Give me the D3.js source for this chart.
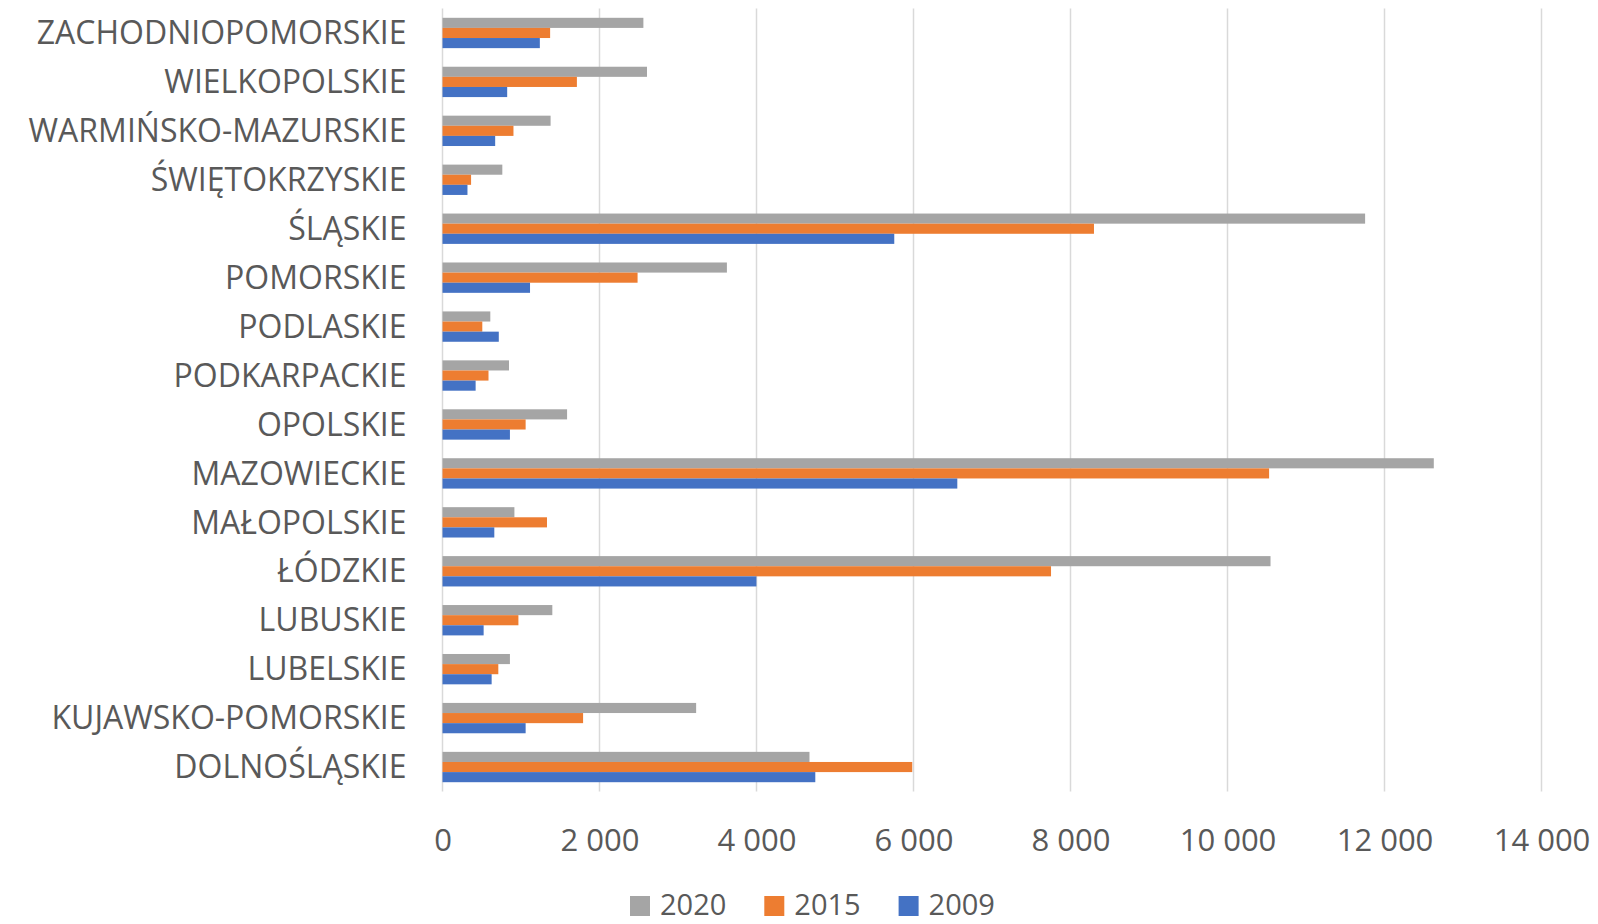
<!DOCTYPE html>
<html>
<head>
<meta charset="utf-8">
<script src="https://cdn.jsdelivr.net/npm/d3@7"></script>
<style>
  html, body { margin: 0; padding: 0; background: #ffffff; }
  svg { display: block; }
  text { font-family: "Open Sans", "Noto Sans", sans-serif; fill: #595959; }
</style>
</head>
<body>
<svg id="chart" width="1598" height="924"></svg>
<script>
// Voivodeships, listed bottom-up as in the chart
const categories = [
  "DOLNOŚLĄSKIE", "KUJAWSKO-POMORSKIE", "LUBELSKIE", "LUBUSKIE", "ŁÓDZKIE",
  "MAŁOPOLSKIE", "MAZOWIECKIE", "OPOLSKIE", "PODKARPACKIE", "PODLASKIE",
  "POMORSKIE", "ŚLĄSKIE", "ŚWIĘTOKRZYSKIE", "WARMIŃSKO-MAZURSKIE",
  "WIELKOPOLSKIE", "ZACHODNIOPOMORSKIE"
];
const values2020 = [4675, 3231, 859, 1399, 10548, 916, 12628, 1587, 847, 609, 3623, 11753, 762, 1377, 2605, 2559];
const values2015 = [5984, 1791, 711, 967, 7752, 1331, 10530, 1059, 586, 507, 2485, 8299, 364, 904, 1712, 1371];
const values2009 = [4749, 1059, 626, 524, 3999, 660, 6558, 859, 422, 717, 1115, 5755, 318, 671, 824, 1240];

const seriesNames = ["2020", "2015", "2009"];
const seriesColors = ["#A5A5A5", "#ED7D31", "#4472C4"];
const tickValues = [0, 2000, 4000, 6000, 8000, 10000, 12000, 14000];

const series = [values2020, values2015, values2009];

const svg = d3.select("#chart");
const plot = { left: 442.5, right: 1541.5, top: 8.5, bottom: 791.5 };

const x = d3.scaleLinear().domain([0, 14000]).range([plot.left, plot.right]);
const y = d3.scaleBand()
  .domain(categories.slice().reverse())
  .range([plot.top, plot.bottom])
  .paddingInner(0.38)
  .paddingOuter(0.19);
const ySub = d3.scaleBand().domain(seriesNames).range([0, y.bandwidth()]);

const fmt = d3.formatLocale({ decimal: ",", thousands: "\u00a0", grouping: [3], currency: ["", " zł"] }).format(",d");

// vertical gridlines
svg.append("g")
  .selectAll("line")
  .data(tickValues)
  .join("line")
  .attr("x1", d => x(d)).attr("x2", d => x(d))
  .attr("y1", plot.top).attr("y2", plot.bottom)
  .attr("stroke", "#d9d9d9")
  .attr("stroke-width", 1.5);

// bars
const groups = svg.append("g")
  .selectAll("g")
  .data(categories)
  .join("g")
  .attr("transform", d => `translate(0,${y(d)})`);

groups.selectAll("rect")
  .data((d, i) => seriesNames.map((s, k) => ({ s, k, v: series[k][i] })))
  .join("rect")
  .attr("x", x(0))
  .attr("y", d => ySub(d.s))
  .attr("width", d => x(d.v) - x(0))
  .attr("height", ySub.bandwidth())
  .attr("fill", d => seriesColors[d.k]);

// category axis labels
const yAxis = d3.axisLeft(y).tickSize(0).tickPadding(36);
const yg = svg.append("g").attr("transform", `translate(${plot.left},0)`).call(yAxis);
yg.select(".domain").remove();
yg.selectAll("text")
  .attr("font-size", 32)
  .attr("dy", "0.35em");

// value axis labels
const xAxis = d3.axisBottom(x).tickValues(tickValues).tickSize(0).tickPadding(0).tickFormat(fmt);
const xg = svg.append("g").attr("transform", `translate(0,840)`).call(xAxis);
xg.select(".domain").remove();
xg.selectAll("text")
  .attr("y", 0)
  .attr("dy", "0.35em")
  .attr("font-size", 31);
svg.selectAll(".tick text").attr("fill", "#595959");
svg.selectAll("g[font-family]").attr("font-family", null);

// legend
const legend = svg.append("g").attr("transform", "translate(630,896)");
const item = legend.selectAll("g")
  .data(seriesNames)
  .join("g")
  .attr("transform", (d, i) => `translate(${i * 134.3},0)`);
item.append("rect")
  .attr("width", 20).attr("height", 20)
  .attr("fill", (d, i) => seriesColors[i]);
item.append("text")
  .attr("x", 30).attr("y", 9)
  .attr("dy", "0.35em")
  .attr("font-size", 29)
  .text(d => d);
</script>
</body>
</html>
